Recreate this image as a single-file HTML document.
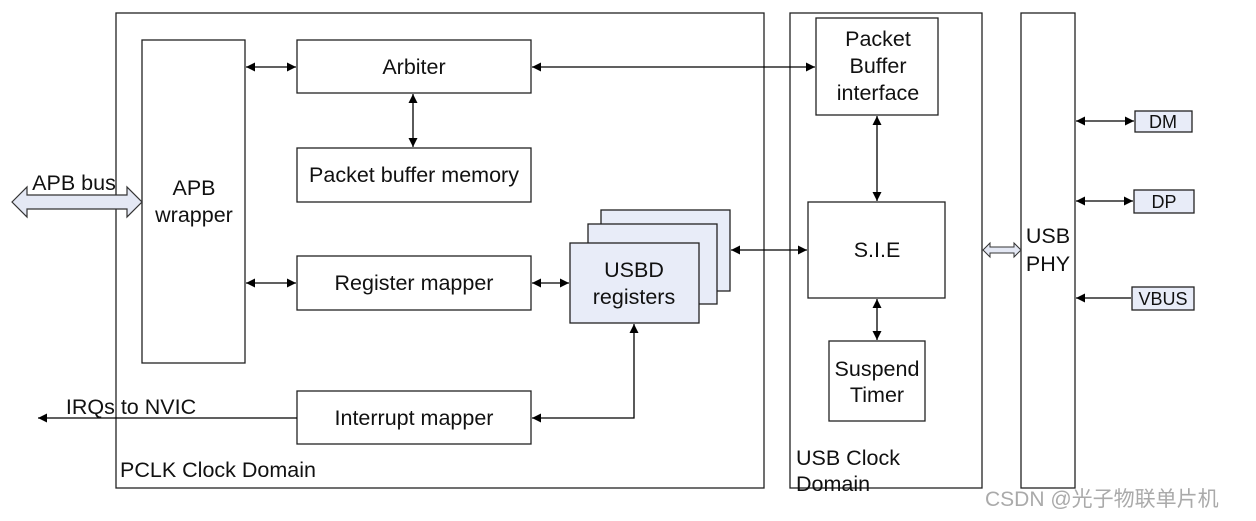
<!DOCTYPE html>
<html><head><style>body{margin:0;background:#fff}svg{display:block}text{font-family:"Liberation Sans","Noto Sans CJK SC",sans-serif;fill:#111}</style></head><body>
<svg width="1256" height="521" viewBox="0 0 1256 521" xmlns="http://www.w3.org/2000/svg">
<defs>
<marker id="a" viewBox="0 0 10 10" refX="10" refY="5" markerWidth="9" markerHeight="9" markerUnits="userSpaceOnUse" orient="auto-start-reverse"><path d="M0,0L10,5L0,10z" fill="#000"/></marker>
</defs>
<g fill="none" stroke="#222" stroke-width="1.3">
<rect x="116" y="13" width="648" height="475"/>
<rect x="790" y="13" width="192" height="475"/>
<rect x="1021" y="13" width="54" height="475"/>
<rect x="142" y="40" width="103" height="323"/>
<rect x="297" y="40" width="234" height="53"/>
<rect x="297" y="148" width="234" height="54"/>
<rect x="297" y="256" width="234" height="54"/>
<rect x="297" y="391" width="234" height="53"/>
<rect x="601" y="210" width="129" height="81" fill="#e8ecf8"/>
<rect x="588" y="224" width="129" height="80" fill="#e8ecf8"/>
<rect x="570" y="243" width="129" height="80" fill="#e8ecf8"/>
<rect x="816" y="18" width="122" height="97"/>
<rect x="808" y="202" width="137" height="96"/>
<rect x="829" y="341" width="96" height="80"/>
<rect x="1135" y="111" width="57" height="21" fill="#e8ecf8"/>
<rect x="1134" y="190" width="60" height="23" fill="#e8ecf8"/>
<rect x="1132" y="287" width="62" height="23" fill="#e8ecf8"/>
</g>
<g stroke="#000" stroke-width="1.3" fill="none">
<line x1="246" y1="67" x2="296" y2="67" marker-start="url(#a)" marker-end="url(#a)"/>
<line x1="246" y1="283" x2="296" y2="283" marker-start="url(#a)" marker-end="url(#a)"/>
<line x1="532" y1="67" x2="815" y2="67" marker-start="url(#a)" marker-end="url(#a)"/>
<line x1="413" y1="94" x2="413" y2="147" marker-start="url(#a)" marker-end="url(#a)"/>
<line x1="532" y1="283" x2="569" y2="283" marker-start="url(#a)" marker-end="url(#a)"/>
<line x1="731" y1="250" x2="807" y2="250" marker-start="url(#a)" marker-end="url(#a)"/>
<line x1="877" y1="116" x2="877" y2="201" marker-start="url(#a)" marker-end="url(#a)"/>
<line x1="877" y1="299" x2="877" y2="340" marker-start="url(#a)" marker-end="url(#a)"/>
<polyline points="532,418 634,418 634,324" marker-start="url(#a)" marker-end="url(#a)"/>
<line x1="297" y1="418" x2="38" y2="418" marker-end="url(#a)"/>
<line x1="1076" y1="121" x2="1134" y2="121" marker-start="url(#a)" marker-end="url(#a)"/>
<line x1="1076" y1="201" x2="1133" y2="201" marker-start="url(#a)" marker-end="url(#a)"/>
<line x1="1131" y1="298" x2="1076" y2="298" marker-end="url(#a)"/>
</g>
<path d="M12,202 L27,187 L27,195 L127,195 L127,187 L142,202 L127,217 L127,209 L27,209 L27,217 Z" fill="#e4e8f4" stroke="#333" stroke-width="1.2"/>
<path d="M983,250 L990,243 L990,247 L1014,247 L1014,243 L1021,250 L1014,257 L1014,253 L990,253 L990,257 Z" fill="#e4e8f4" stroke="#333" stroke-width="1"/>
<g font-size="21.5" text-anchor="middle">
<text x="74" y="190">APB bus</text>
<text x="194" y="195">APB</text><text x="194" y="222">wrapper</text>
<text x="414" y="74">Arbiter</text>
<text x="414" y="182">Packet buffer memory</text>
<text x="414" y="290">Register mapper</text>
<text x="414" y="425">Interrupt mapper</text>
<text x="634" y="277">USBD</text><text x="634" y="304">registers</text>
<text x="878" y="46">Packet</text><text x="878" y="73">Buffer</text><text x="878" y="100">interface</text>
<text x="877" y="257">S.I.E</text>
<text x="877" y="376">Suspend</text><text x="877" y="402">Timer</text>
<text x="1048" y="243">USB</text><text x="1048" y="271">PHY</text>
<text x="131" y="414">IRQs to NVIC</text>
</g>
<g font-size="18" text-anchor="middle">
<text x="1163" y="128">DM</text><text x="1164" y="208">DP</text><text x="1163" y="305">VBUS</text>
</g>
<g font-size="21.5">
<text x="120" y="477">PCLK Clock Domain</text>
<text x="796" y="465">USB Clock</text><text x="796" y="491">Domain</text>
</g>
<text x="985" y="506" font-size="21" style="fill:#aaa">CSDN @光子物联单片机</text>
</svg>
</body></html>
